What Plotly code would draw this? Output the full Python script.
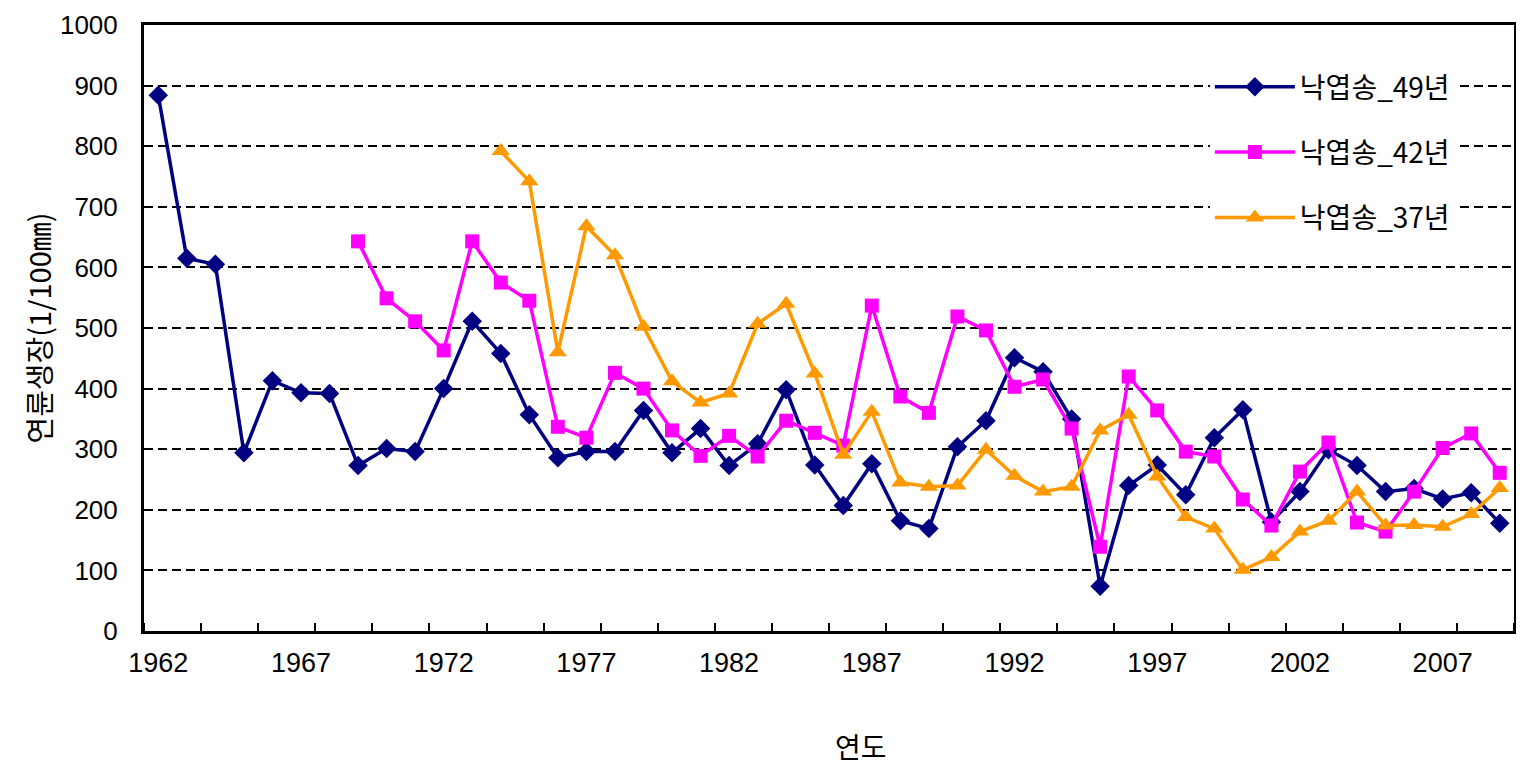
import plotly.graph_objects as go

years = list(range(1962, 2010))

# 낙엽송_49년 : 1962-2009
larch_49 = [884, 615, 605, 294, 413, 393, 392, 273, 301, 296,
            400, 511, 458, 357, 286, 296, 296, 364, 294, 334,
            273, 309, 398, 274, 207, 276, 182, 169, 304, 347,
            451, 428, 350, 74, 240, 274, 225, 319, 365, 180,
            230, 299, 273, 230, 235, 218, 228, 178]

# 낙엽송_42년 : 1969-2009
larch_42_years = list(range(1969, 2010))
larch_42 = [643, 549, 511, 463, 643, 575, 545, 337, 319, 426,
            400, 331, 289, 322, 288, 347, 327, 306, 537, 387,
            360, 519, 496, 403, 415, 334, 139, 420, 364, 296,
            288, 217, 174, 263, 311, 179, 164, 230, 302, 326,
            261]

# 낙엽송_37년 : 1974-2009
larch_37_years = list(range(1974, 2010))
larch_37 = [792, 742, 460, 668, 620, 502, 412, 377, 392, 507,
            540, 425, 291, 362, 245, 238, 240, 299, 256, 230,
            238, 331, 357, 255, 188, 169, 101, 122, 164, 182,
            230, 174, 175, 172, 193, 236]

x_ticks = [1962, 1967, 1972, 1977, 1982, 1987, 1992, 1997, 2002, 2007]
y_ticks = list(range(0, 1001, 100))

fig = go.Figure()

fig.add_trace(go.Scatter(
    x=years, y=larch_49, name="낙엽송_49년", mode="lines+markers",
    legendgroup="g49",
    line=dict(color="#000080", width=3.5),
    marker=dict(symbol="diamond", size=15, color="#000080"),
))
fig.add_trace(go.Scatter(
    x=larch_42_years, y=larch_42, name="낙엽송_42년", mode="lines+markers",
    legendgroup="g42",
    line=dict(color="#FF00FF", width=3.5),
    marker=dict(symbol="square", size=14, color="#FF00FF"),
))
fig.add_trace(go.Scatter(
    x=larch_37_years, y=larch_37, name="낙엽송_37년", mode="lines+markers",
    legendgroup="g37",
    line=dict(color="#FF9900", width=3.5),
    marker=dict(symbol="triangle-up", size=16, color="#FF9900"),
))

fig.update_xaxes(
    range=[1961.5, 2009.5],
    tickmode="array", tickvals=x_ticks,
    ticks="", ticklen=0, ticklabelstandoff=6,
    showline=True, linecolor="black", linewidth=3, mirror=True,
    showgrid=False, zeroline=False, automargin=False,
    tickfont=dict(family="Liberation Sans Narrow, Arial", size=27, color="black"),
    minor=dict(ticks="inside", tick0=1963.5, dtick=2, ticklen=8,
               tickcolor="black", tickwidth=1.5, showgrid=False),
)
fig.update_yaxes(
    range=[0, 1000],
    tickmode="array", tickvals=y_ticks,
    ticks="inside", ticklen=8, tickcolor="black", tickwidth=1.5,
    ticklabelstandoff=18,
    showline=True, linecolor="black", linewidth=3, mirror=True,
    showgrid=True, gridcolor="black", gridwidth=1.5, griddash="9px,5px",
    zeroline=False, automargin=False,
    tickfont=dict(family="Liberation Sans, Arial", size=26, color="black"),
    title=dict(text="연륜생장(1/100㎜)",
               font=dict(family="Noto Sans CJK KR", size=29, color="black"),
               standoff=0),
)

# x-axis title placed as annotation (sits right of the plot centre in the original)
fig.add_annotation(
    text="연도", xref="paper", yref="paper", x=0.523, y=-0.19,
    xanchor="center", yanchor="middle", showarrow=False,
    font=dict(family="Noto Sans CJK KR", size=28, color="black"),
)

# page body has an 8px margin, so the figure is sized to fit inside it
fig.update_layout(
    width=1516, height=767,
    margin=dict(l=136, r=10, t=17, b=144, autoexpand=False),
    plot_bgcolor="white", paper_bgcolor="white",
    legend=dict(
        x=0.778, y=0.939, xanchor="left", yanchor="top",
        bgcolor="white", borderwidth=0,
        font=dict(family="Noto Sans CJK KR", size=28, color="black"),
        itemwidth=80, tracegroupgap=26,
    ),
    showlegend=True,
)

fig.write_html("out.html")
